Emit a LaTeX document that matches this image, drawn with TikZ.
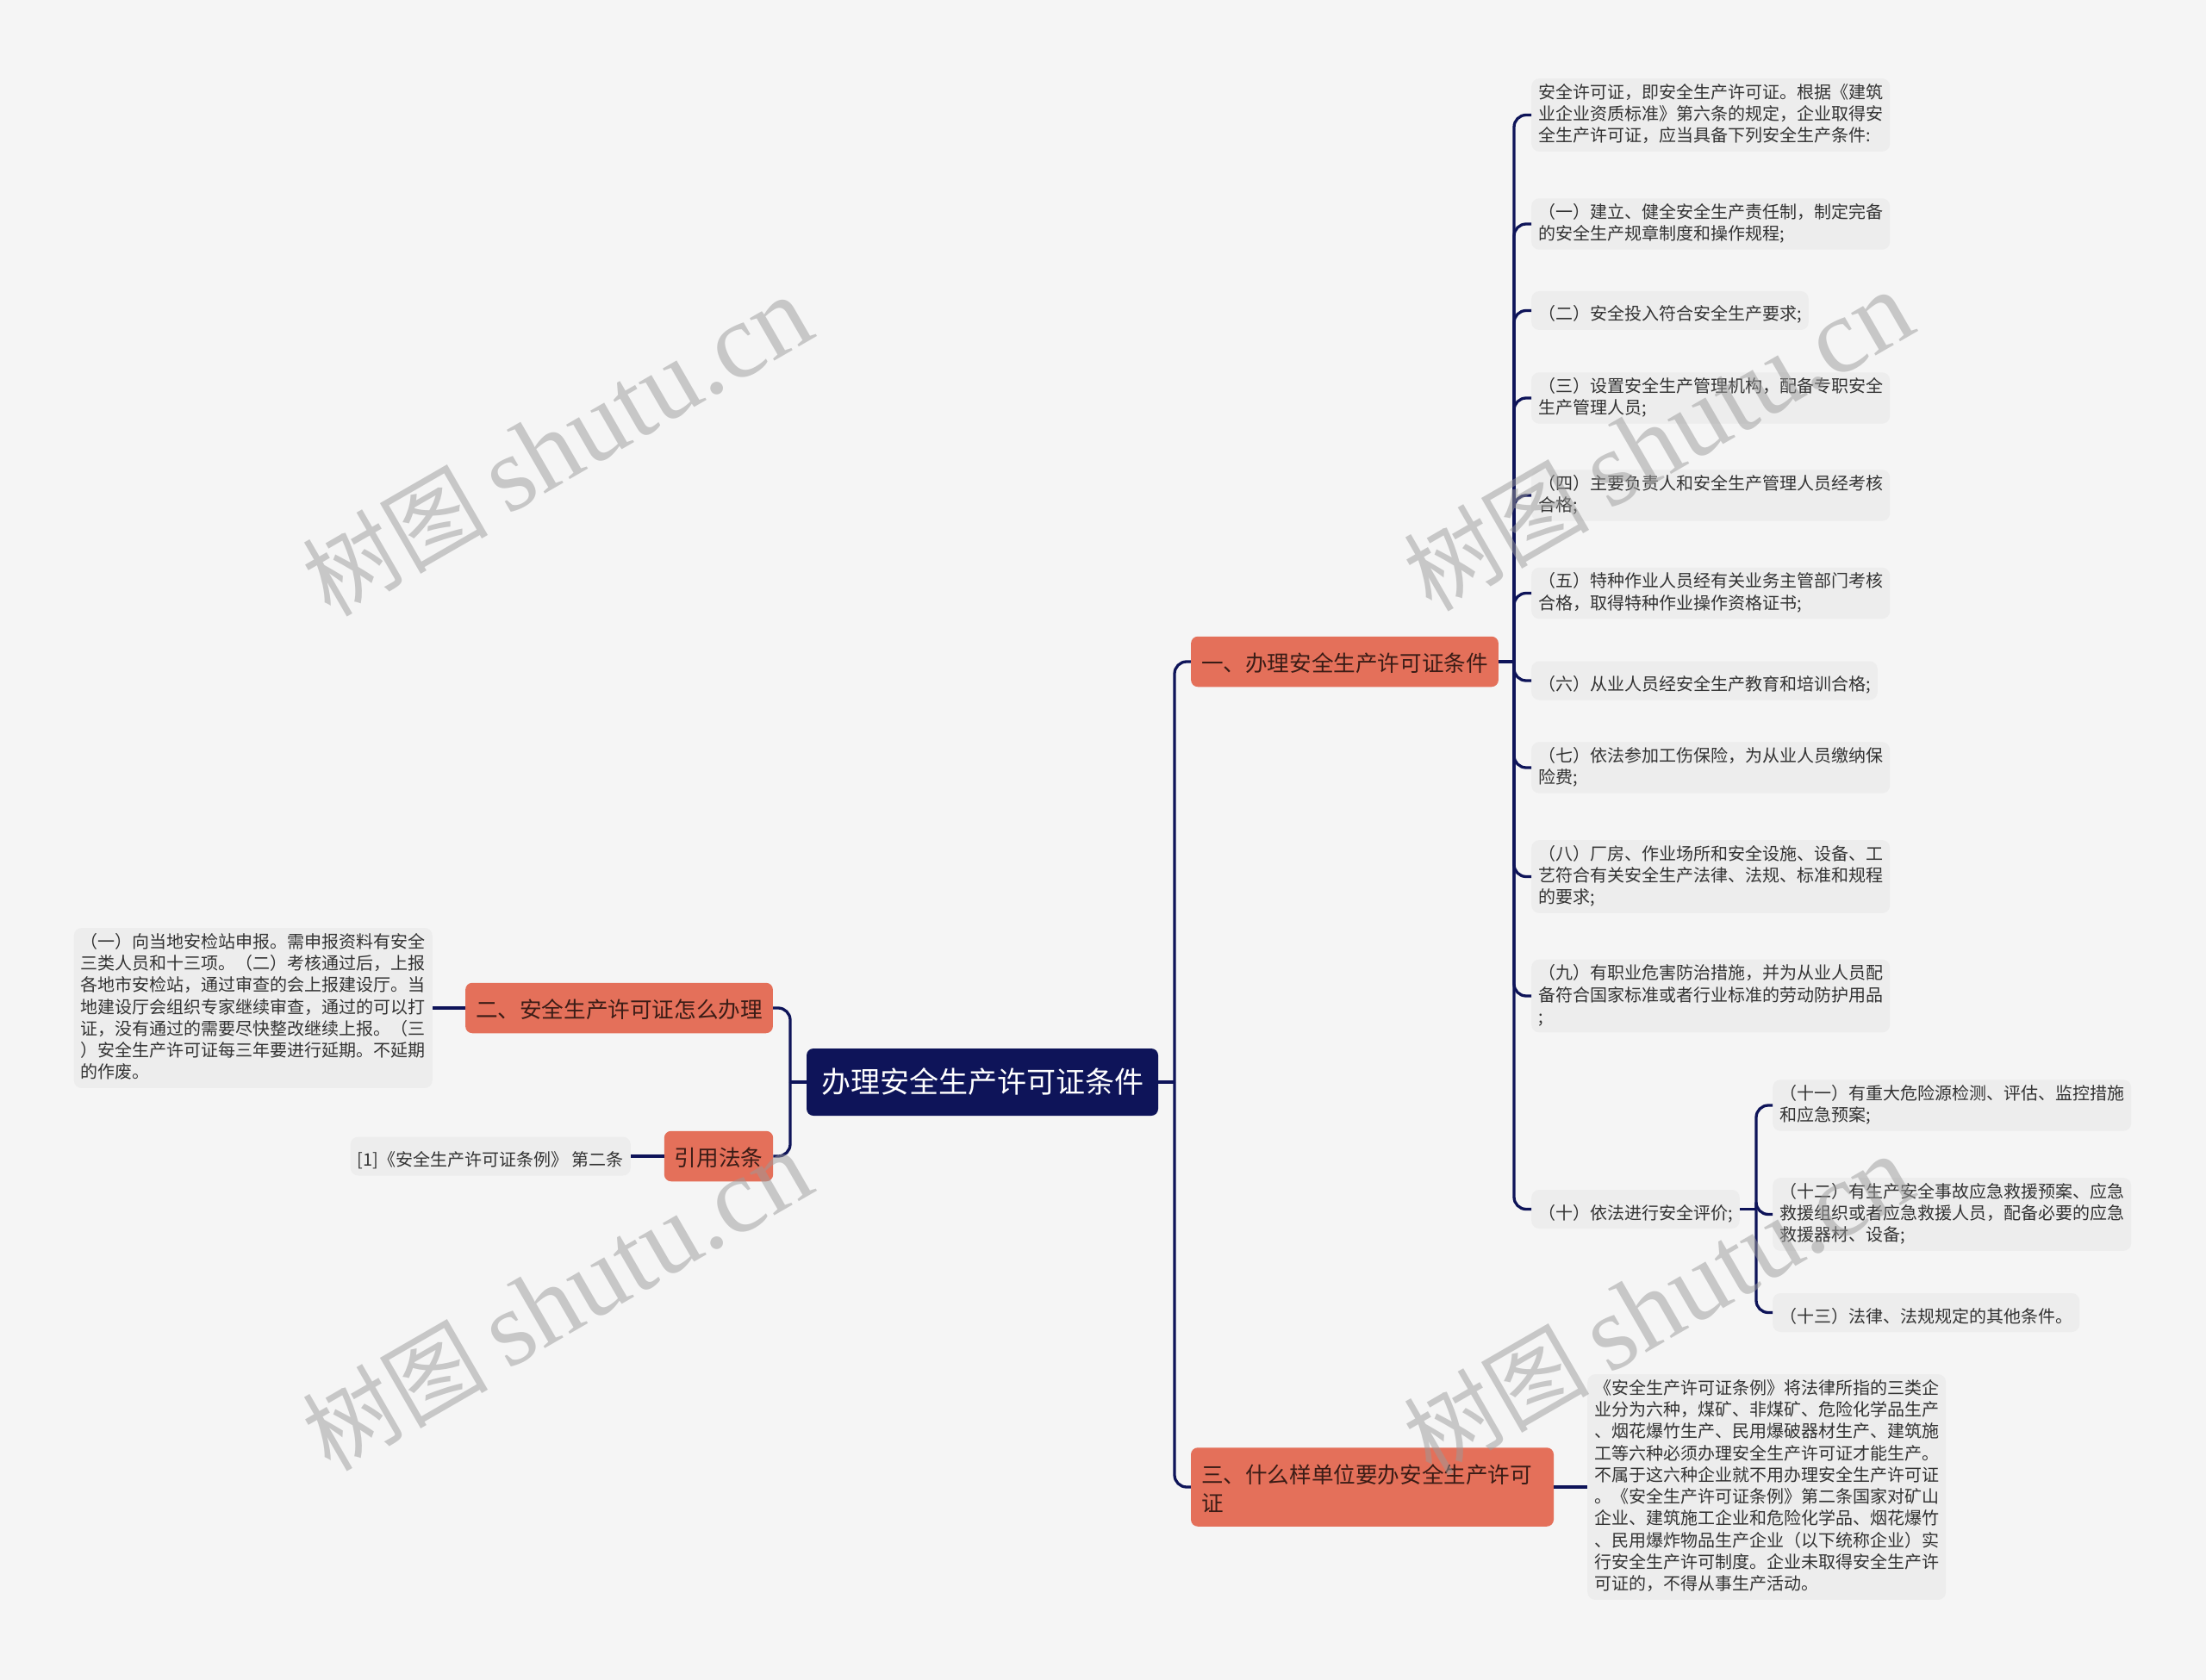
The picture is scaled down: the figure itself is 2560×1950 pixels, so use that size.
\documentclass[tikz,border=0pt]{standalone}
\usepackage{fontspec}
\setmainfont{Noto Sans CJK SC}
\newfontfamily\wmlatin{Liberation Serif}
\newfontfamily\wmcjk{Noto Sans CJK SC}
\definecolor{bgc}{HTML}{F5F5F5}
\definecolor{leafc}{HTML}{EDEDED}
\definecolor{leaftxt}{HTML}{333333}
\definecolor{navy}{HTML}{0E1459}
\definecolor{coral}{HTML}{E4705A}
\definecolor{brtxt}{HTML}{3A1C16}
\definecolor{wmc}{HTML}{9A9A9A}
\newcommand\leaffont{\fontsize{20pt}{25.3pt}\selectfont\lineskiplimit=-100pt\lineskip=0pt}
\newcommand\brfont{\fontsize{25.6pt}{33pt}\selectfont\lineskiplimit=-100pt\lineskip=0pt}
\newcommand\rootfont{\fontsize{34pt}{40pt}\selectfont}
\newcommand\lstrut{\rule[-5pt]{0pt}{33pt}}
\newcommand\bstrut{\rule[-17.5pt]{0pt}{58.5pt}}
\newcommand\rstrut{\rule[-27pt]{0pt}{78pt}}
\tikzset{
  conn/.style={draw=navy, line width=3.3pt, rounded corners=14pt},
  leaf/.style={fill=leafc, rounded corners=9pt, inner xsep=8pt, inner ysep=6pt,
    align=left, text=leaftxt, font=\leaffont,
    execute at begin node=\lstrut, execute at end node=\lstrut},
  branch/.style={fill=coral, rounded corners=8pt, inner xsep=12pt, inner ysep=0pt,
    align=left, text=brtxt, font=\brfont,
    execute at begin node=\bstrut, execute at end node=\bstrut},
  rootbox/.style={fill=navy, rounded corners=8pt, inner xsep=17pt, inner ysep=0pt,
    text=white, font=\rootfont, execute at begin node=\rstrut},
  wm/.style={text=wmc, text opacity=0.5, rotate=30, inner sep=0pt}
}
\begin{document}
\begin{tikzpicture}[x=1pt,y=-1pt]
\useasboundingbox (0,0) rectangle (2560,1950);
\fill[bgc] (0,0) rectangle (2560,1950);

% root and branches
\node[rootbox] (root) at (1140,1256) {办理安全生产许可证条件};
\node[branch] (b1) at (1560.5,768) {一、办理安全生产许可证条件};
\node[branch, text width=397pt] (b3) at (1592.5,1726) {三、什么样单位要办安全生产许可\\证};
\node[branch] (b2) at (718.5,1170) {二、安全生产许可证怎么办理};
\node[branch] (b4) at (834,1342) {引用法条};

% right leaves
\node[leaf, anchor=west] (L0) at (1777,133.5) {安全许可证，即安全生产许可证。根据《建筑\\业企业资质标准》第六条的规定，企业取得安\\全生产许可证，应当具备下列安全生产条件:};
\node[leaf, anchor=west] (L1) at (1777,260) {（一）建立、健全安全生产责任制，制定完备\\的安全生产规章制度和操作规程;};
\node[leaf, anchor=west] (L2) at (1777,360.5) {（二）安全投入符合安全生产要求;};
\node[leaf, anchor=west] (L3) at (1777,462) {（三）设置安全生产管理机构，配备专职安全\\生产管理人员;};
\node[leaf, anchor=west] (L4) at (1777,575) {（四）主要负责人和安全生产管理人员经考核\\合格;};
\node[leaf, anchor=west] (L5) at (1777,688.5) {（五）特种作业人员经有关业务主管部门考核\\合格，取得特种作业操作资格证书;};
\node[leaf, anchor=west] (L6) at (1777,790) {（六）从业人员经安全生产教育和培训合格;};
\node[leaf, anchor=west] (L7) at (1777,891) {（七）依法参加工伤保险，为从业人员缴纳保\\险费;};
\node[leaf, anchor=west] (L8) at (1777,1017.5) {（八）厂房、作业场所和安全设施、设备、工\\艺符合有关安全生产法律、法规、标准和规程\\的要求;};
\node[leaf, anchor=west] (L9) at (1777,1156) {（九）有职业危害防治措施，并为从业人员配\\备符合国家标准或者行业标准的劳动防护用品\\;};
\node[leaf, anchor=west] (L10) at (1777,1403.5) {（十）依法进行安全评价;};
\node[leaf, anchor=west] (S11) at (2057,1283) {（十一）有重大危险源检测、评估、监控措施\\和应急预案;};
\node[leaf, anchor=west] (S12) at (2057,1409.5) {（十二）有生产安全事故应急救援预案、应急\\救援组织或者应急救援人员，配备必要的应急\\救援器材、设备;};
\node[leaf, anchor=west] (S13) at (2057,1523.5) {（十三）法律、法规规定的其他条件。};
\node[leaf, anchor=west] (B3L) at (1842,1726) {《安全生产许可证条例》将法律所指的三类企\\业分为六种，煤矿、非煤矿、危险化学品生产\\、烟花爆竹生产、民用爆破器材生产、建筑施\\工等六种必须办理安全生产许可证才能生产。\\不属于这六种企业就不用办理安全生产许可证\\。《安全生产许可证条例》第二条国家对矿山\\企业、建筑施工企业和危险化学品、烟花爆竹\\、民用爆炸物品生产企业（以下统称企业）实\\行安全生产许可制度。企业未取得安全生产许\\可证的，不得从事生产活动。};

% left leaves
\node[leaf, anchor=east] (LL) at (502,1170) {（一）向当地安检站申报。需申报资料有安全\\三类人员和十三项。（二）考核通过后，上报\\各地市安检站，通过审查的会上报建设厅。当\\地建设厅会组织专家继续审查，通过的可以打\\证，没有通过的需要尽快整改继续上报。（三\\）安全生产许可证每三年要进行延期。不延期\\的作废。};
\node[leaf, anchor=east] (REF) at (732,1342) {[1]《安全生产许可证条例》 第二条};

% connectors
\coordinate (rR) at (1363,1256);
\coordinate (lR) at (917,1256);
\coordinate (r1) at (1757,768);
\coordinate (r10) at (2038,1403.5);
\draw[conn] (root.east) -- (rR);
\draw[conn] (rR) |- (b1.west);
\draw[conn] (rR) |- (b3.west);
\draw[conn] (root.west) -- (lR);
\draw[conn] (lR) |- (b2.east);
\draw[conn] (lR) |- (b4.east);
\draw[conn] (b1.east) -- (r1);
\foreach \n in {L0,L1,L2,L3,L4,L5,L6,L7,L8,L9,L10}
  \draw[conn] (r1) |- (\n.west);
\draw[conn] (L10.east) -- (r10);
\foreach \n in {S11,S12,S13}
  \draw[conn] (r10) |- (\n.west);
\draw[conn] (b2.west) -- (LL.east);
\draw[conn] (b4.west) -- (REF.east);
\draw[conn] (b3.east) -- (B3L.west);

% watermarks
\foreach \p in {(646,518),(1924,512),(646,1510),(1924,1515)}
  \node[wm] at \p {{\wmcjk\fontsize{108pt}{110pt}\selectfont 树图}\hspace{22pt}{\wmlatin\fontsize{124pt}{126pt}\selectfont shutu.cn}};
\end{tikzpicture}
\end{document}
